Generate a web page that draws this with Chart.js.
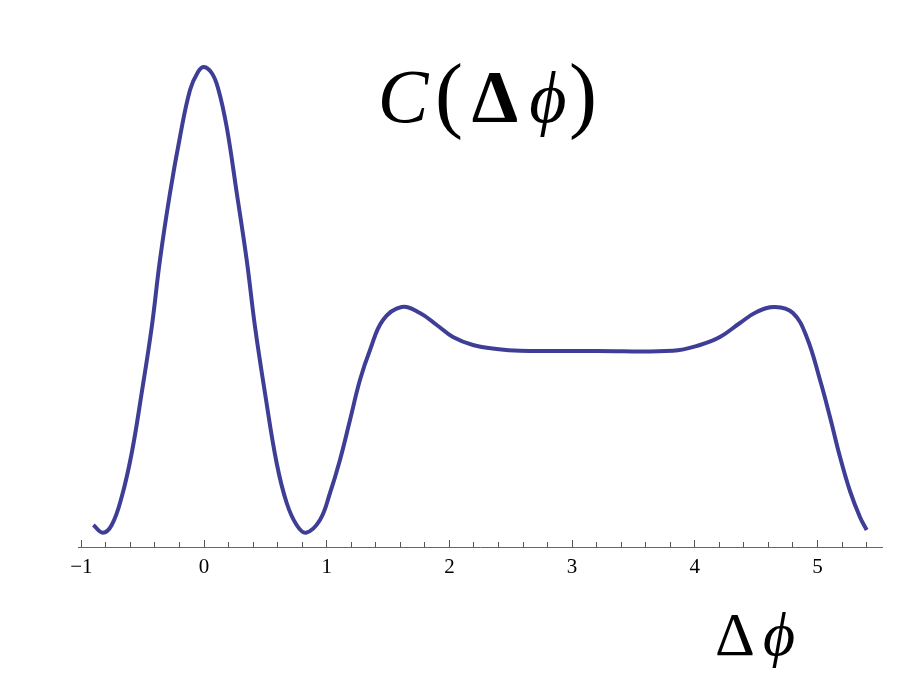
<!DOCTYPE html>
<html>
<head>
<meta charset="utf-8">
<script src="https://cdn.jsdelivr.net/npm/chart.js@4.4.1/dist/chart.umd.min.js"></script>
<style>
    html, body { margin: 0; padding: 0; background: #fff; }
    .chart-container { position: relative; width: 917px; height: 680px; }
</style>
</head>
<body>
<div class="chart-container"><canvas id="chart" width="917" height="680"></canvas></div>
<script>
// values (x = delta phi, y = C in arbitrary units)
const deltaPhi = [-0.902, -0.826, -0.752, -0.671, -0.589, -0.508, -0.426, -0.359, -0.277, -0.196,
    -0.114, -0.049, 0, 0.063, 0.114, 0.185, 0.267, 0.348, 0.416, 0.497,
    0.592, 0.674, 0.755, 0.831, 0.945, 1.027, 1.108, 1.19, 1.271, 1.353,
    1.459, 1.611, 1.76, 1.897, 2.029, 2.192, 2.385, 2.575, 3.2, 3.822,
    4.042, 4.205, 4.368, 4.504, 4.654, 4.8, 4.912, 5.021, 5.102, 5.184,
    5.265, 5.346, 5.401];
const correlation = [0.22, 0.143, 0.22, 0.5, 0.94, 1.54, 2.2, 2.87, 3.54, 4.1,
    4.57, 4.75, 4.8, 4.74, 4.59, 4.2, 3.54, 2.87, 2.2, 1.54,
    0.84, 0.44, 0.22, 0.143, 0.27, 0.54, 0.87, 1.27, 1.67, 1.97,
    2.27, 2.4, 2.34, 2.22, 2.1, 2.02, 1.98, 1.963, 1.96, 1.963,
    2.02, 2.1, 2.24, 2.35, 2.4, 2.34, 2.1, 1.67, 1.3, 0.9,
    0.56, 0.3, 0.17];
const tickValues = [-1, 0, 1, 2, 3, 4, 5];

const serif = "'Liberation Serif', 'Times New Roman', 'DejaVu Serif', serif";

// C(Δϕ) and Δϕ drawn as LaTeX-like runs
const mathText = {
    id: 'mathText',
    afterDraw(chart) {
        const ctx = chart.ctx;
        const runs = [
            {text: 'C', font: 'italic 76px ' + serif, x: 403, y: 122},
            {text: '(', font: '84px ' + serif, x: 449, y: 122},
            {text: 'Δ', font: 'bold 74px ' + serif, x: 495, y: 122},
            {text: 'ϕ', font: 'italic 72px ' + serif, x: 548, y: 122},
            {text: ')', font: '84px ' + serif, x: 583, y: 122},
            {text: 'Δ', font: '62px ' + serif, x: 735, y: 655},
            {text: 'ϕ', font: 'italic 62px ' + serif, x: 779, y: 655}
        ];
        ctx.save();
        ctx.fillStyle = '#000';
        ctx.textAlign = 'center';
        ctx.textBaseline = 'alphabetic';
        runs.forEach(r => {
            ctx.font = r.font;
            ctx.fillText(r.text, r.x, r.y);
        });
        ctx.restore();
    }
};

const ctx = document.getElementById('chart').getContext('2d');
const chart = new Chart(ctx, {
    type: 'scatter',
    data: {
        datasets: [{
            data: deltaPhi.map((x, i) => ({x: x, y: correlation[i]})),
            showLine: true,
            borderColor: 'rgb(62, 62, 150)',
            borderWidth: 4,
            pointRadius: 0,
            tension: 0.4,
            fill: false
        }]
    },
    options: {
        responsive: false,
        animation: false,
        layout: {
            padding: {left: 78, right: 35, top: 47, bottom: 133}
        },
        scales: {
            y: {
                display: false,
                min: 0,
                max: 5
            },
            x: {
                type: 'linear',
                position: {y: 0},
                min: -1.027,
                max: 5.526,
                afterBuildTicks: axis => {
                    axis.ticks = tickValues.map(v => ({value: v}));
                },
                border: {display: true, color: '#666', width: 1},
                grid: {
                    drawOnChartArea: false,
                    tickLength: -8,
                    tickColor: '#555',
                    tickWidth: 1
                },
                ticks: {
                    autoSkip: false,
                    maxRotation: 0,
                    padding: 16,
                    color: '#000',
                    font: {family: serif, size: 21},
                    callback: v => String(v).replace('-', '\u2212')
                }
            },
            xMinor: {
                type: 'linear',
                axis: 'x',
                position: {y: 0},
                min: -1.027,
                max: 5.526,
                border: {display: false},
                grid: {
                    drawOnChartArea: false,
                    tickLength: -5,
                    tickColor: '#555',
                    tickWidth: 1
                },
                ticks: {
                    display: false,
                    stepSize: 0.2,
                    includeBounds: false
                }
            }
        },
        plugins: {
            legend: {display: false},
            tooltip: {enabled: false}
        }
    },
    plugins: [mathText]
});
</script>
</body>
</html>
